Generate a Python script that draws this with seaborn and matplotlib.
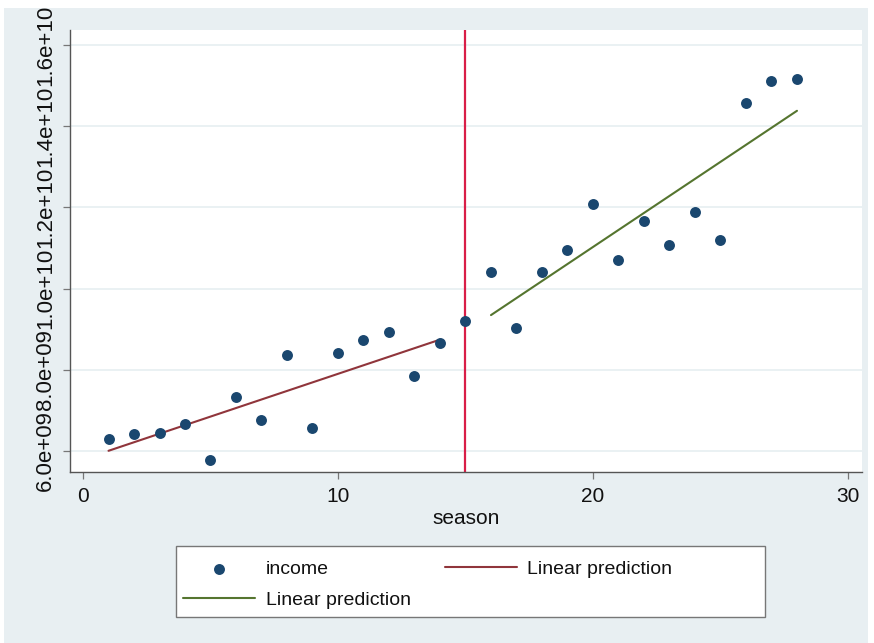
import matplotlib
matplotlib.use("Agg")
import matplotlib.pyplot as plt
from matplotlib.patches import Rectangle
import seaborn as sns
import pandas as pd

# ---- data ----
season = list(range(1, 29))
income = [6.30e9, 6.42e9, 6.44e9, 6.67e9, 5.78e9, 7.33e9, 6.76e9, 8.37e9, 6.57e9,
          8.42e9, 8.74e9, 8.93e9, 7.85e9, 8.66e9, 9.21e9, 10.41e9, 9.03e9, 10.40e9,
          10.94e9, 12.08e9, 10.71e9, 11.67e9, 11.08e9, 11.88e9, 11.19e9, 14.56e9,
          15.11e9, 15.17e9]
break_season = 15
x_ticks = [0, 10, 20, 30]
y_ticks = [6e9, 8e9, 1.0e10, 1.2e10, 1.4e10, 1.6e10]
y_tick_labels = ["6.0e+09", "8.0e+09", "1.0e+10", "1.2e+10", "1.4e+10", "1.6e+10"]

df = pd.DataFrame({"season": season, "income": income})
before = df[df["season"] < break_season]
after = df[df["season"] > break_season]

sns.set_style("ticks")
plt.rcParams["font.family"] = ["Liberation Sans", "DejaVu Sans"]

W, H = 874, 643
fig = plt.figure(figsize=(W / 100, H / 100), dpi=100)
fig.patch.set_facecolor("white")
BG = "#E8EFF2"
fig.patches.append(Rectangle((4 / W, 0), (868 - 4) / W, (H - 8) / H,
                             transform=fig.transFigure, facecolor=BG,
                             edgecolor="none", zorder=-1))

ax = fig.add_axes([70 / W, 1 - 472 / H, 792 / W, 442 / H])
ax.set_facecolor("white")

NAVY = "#1A476F"
MAROON = "#90353B"
GREEN = "#55752F"
VRED = "#D91E48"

sns.scatterplot(data=df, x="season", y="income", ax=ax, color=NAVY, s=62,
                linewidth=0, label="income", zorder=3, legend=False)
sns.regplot(data=before, x="season", y="income", ax=ax, scatter=False, ci=None,
            truncate=True, color=MAROON, label="Linear prediction", line_kws={"lw": 1.5})
sns.regplot(data=after, x="season", y="income", ax=ax, scatter=False, ci=None,
            truncate=True, color=GREEN, label="Linear prediction", line_kws={"lw": 1.5})
ax.axvline(break_season, color=VRED, lw=1.6, zorder=2)

ax.set_xlim(-0.51, 30.55)
ax.set_ylim(5.483e9, 1.637e10)
ax.set_xticks(x_ticks)
ax.set_xticklabels([str(t) for t in x_ticks], fontsize=15)
ax.set_yticks(y_ticks)
ax.set_yticklabels(y_tick_labels, rotation=90, va="center", fontsize=16)
ax.grid(axis="y", color="#E6EFF1", lw=1.2)
ax.set_axisbelow(True)
for s in ("top", "right"):
    ax.spines[s].set_visible(False)
for s in ("left", "bottom"):
    ax.spines[s].set_color("#555555")
    ax.spines[s].set_linewidth(1.0)
ax.tick_params(axis="both", direction="out", length=5, width=0.9, color="#777777",
               colors="#111111", pad=5)
ax.tick_params(axis="x", pad=6)
ax.set_xlabel("season", fontsize=15, color="#111111", labelpad=2)
ax.set_ylabel("")

scatter_handle = ax.collections[0]
red_line, green_line = ax.lines[0], ax.lines[1]
handles = [scatter_handle, green_line, red_line]
labels = ["income", "Linear prediction", "Linear prediction"]
if ax.get_legend() is not None:
    ax.get_legend().remove()

fig.patches.append(Rectangle((176 / W, 1 - 617 / H), 589 / W, 71 / H,
                             transform=fig.transFigure, facecolor="white",
                             edgecolor="#777777", lw=1.0, zorder=1))
leg = fig.legend(handles, labels,
                 ncol=2, loc="upper left", bbox_to_anchor=(183 / W, 1 - 560 / H),
                 frameon=False, fontsize=14, handlelength=3.7, handletextpad=0.55,
                 columnspacing=1.75, labelspacing=0.7, borderpad=0, borderaxespad=0)
for t in leg.get_texts():
    t.set_color("#111111")

# white strip along the top edge, as in the cropped reference
fig.patches.append(Rectangle((0, 1 - 8 / H), 1, 8 / H, transform=fig.transFigure,
                             facecolor="white", edgecolor="none", zorder=10))

fig.savefig("out.png", dpi=100, facecolor=fig.get_facecolor())
